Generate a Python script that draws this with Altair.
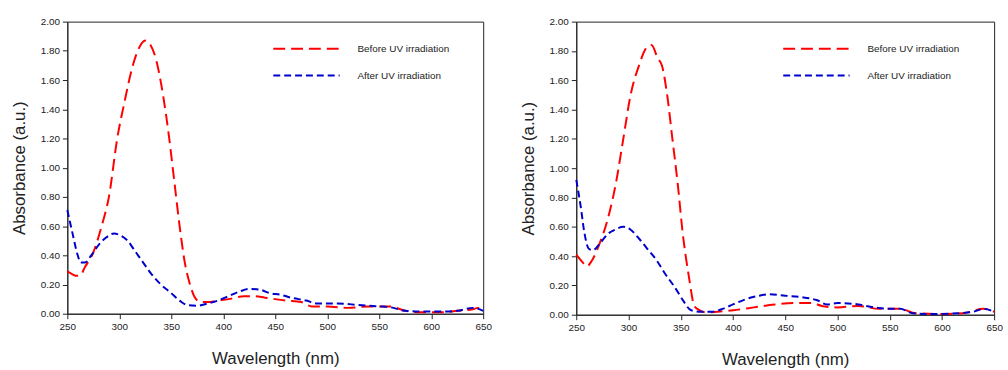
import altair as alt
import pandas as pd

# ---- data ----
left_before_x = [250, 255, 258, 262, 267, 275, 283, 290, 298, 305, 313, 319, 325, 330, 335, 342, 348, 353, 358, 363, 368, 372, 378, 385, 395, 405, 420, 430, 440, 450, 460, 475, 485, 500, 520, 540, 560, 575, 590, 610, 625, 640, 645, 650]
left_before_y = [0.29, 0.27, 0.26, 0.26, 0.32, 0.42, 0.60, 0.80, 1.20, 1.45, 1.70, 1.82, 1.87, 1.84, 1.75, 1.50, 1.20, 0.90, 0.60, 0.35, 0.20, 0.12, 0.08, 0.08, 0.09, 0.10, 0.12, 0.12, 0.11, 0.10, 0.09, 0.08, 0.05, 0.05, 0.04, 0.05, 0.05, 0.02, 0.01, 0.01, 0.02, 0.03, 0.04, 0.02]
left_after_x = [250, 255, 260, 263, 267, 273, 280, 287, 295, 300, 308, 315, 322, 330, 340, 350, 358, 365, 375, 385, 395, 405, 415, 425, 435, 445, 455, 465, 480, 490, 510, 530, 550, 560, 575, 590, 610, 625, 640, 650]
left_after_y = [0.71, 0.55, 0.40, 0.35, 0.35, 0.40, 0.47, 0.52, 0.55, 0.54, 0.50, 0.43, 0.36, 0.28, 0.20, 0.14, 0.09, 0.06, 0.055, 0.07, 0.09, 0.12, 0.15, 0.17, 0.165, 0.14, 0.13, 0.11, 0.09, 0.07, 0.07, 0.06, 0.05, 0.045, 0.02, 0.015, 0.015, 0.02, 0.04, 0.02]

right_before_x = [250, 257, 260, 265, 272, 280, 288, 295, 302, 310, 317, 322, 328, 332, 337, 342, 347, 352, 358, 363, 368, 375, 385, 400, 420, 440, 460, 475, 485, 500, 520, 540, 560, 575, 600, 620, 640, 650]
right_before_y = [0.41, 0.35, 0.33, 0.37, 0.48, 0.65, 0.90, 1.20, 1.50, 1.70, 1.82, 1.84, 1.75, 1.70, 1.50, 1.20, 0.90, 0.55, 0.25, 0.06, 0.03, 0.015, 0.02, 0.03, 0.05, 0.07, 0.08, 0.08, 0.06, 0.05, 0.06, 0.04, 0.04, 0.01, 0.005, 0.01, 0.04, 0.02]
right_after_x = [250, 254, 258, 262, 266, 272, 280, 287, 295, 302, 310, 318, 327, 335, 345, 352, 360, 370, 380, 390, 400, 410, 425, 435, 450, 465, 480, 490, 500, 520, 535, 550, 560, 572, 590, 615, 630, 640, 650]
right_after_y = [0.92, 0.75, 0.55, 0.45, 0.44, 0.48, 0.55, 0.58, 0.60, 0.58, 0.52, 0.45, 0.37, 0.28, 0.18, 0.10, 0.03, 0.02, 0.02, 0.04, 0.07, 0.10, 0.13, 0.14, 0.13, 0.12, 0.10, 0.07, 0.08, 0.07, 0.05, 0.04, 0.04, 0.01, 0.005, 0.01, 0.02, 0.04, 0.02]

series_names = ["Before UV irradiation", "After UV irradiation"]
series_colors = ["#ff0000", "#0000cc"]
series_dashes = [[12, 6], [7, 4]]
x_ticks = [250, 300, 350, 400, 450, 500, 550, 600, 650]
y_ticks = [0.0, 0.2, 0.4, 0.6, 0.8, 1.0, 1.2, 1.4, 1.6, 1.8, 2.0]


def series_layer(xs, ys, i, lx, ly, w, h):
    df = pd.DataFrame({"wl": xs, "abs": ys, "series": series_names[i]})
    return alt.Chart(df).mark_line(strokeWidth=2, interpolate="monotone").encode(
        x=alt.X("wl:Q", title="Wavelength (nm)",
                scale=alt.Scale(domain=[250, 650], nice=False),
                axis=alt.Axis(values=x_ticks, format="d", titlePadding=19, labelFlush=False)),
        y=alt.Y("abs:Q", title="Absorbance (a.u.)",
                scale=alt.Scale(domain=[0, 2], nice=False),
                axis=alt.Axis(values=y_ticks, format=".2f", titlePadding=12)),
        color=alt.Color("series:N",
                        scale=alt.Scale(domain=[series_names[i]], range=[series_colors[i]]),
                        legend=alt.Legend(title=None, orient="none", legendX=lx, legendY=ly,
                                          symbolType="stroke", symbolSize=4489,
                                          symbolStrokeWidth=2, labelFontSize=10,
                                          labelOffset=17,
                                          labelFont="Liberation Sans", labelColor="#222")),
        strokeDash=alt.StrokeDash("series:N",
                                  scale=alt.Scale(domain=[series_names[i]], range=[series_dashes[i]]),
                                  legend=None),
    ).properties(width=w, height=h)


def panel(bx, by, ax, ay, w, h, lx, ly1, ly2):
    return alt.layer(
        series_layer(bx, by, 0, lx, ly1, w, h),
        series_layer(ax, ay, 1, lx, ly2, w, h),
    ).resolve_scale(color="independent", strokeDash="independent")


left = panel(left_before_x, left_before_y, left_after_x, left_after_y, 420, 295, 207, -7, 20)
right = panel(right_before_x, right_before_y, right_after_x, right_after_y, 422, 296, 208, -7, 20)

chart = alt.hconcat(left, right, spacing=27).resolve_scale(
    color="independent", strokeDash="independent"
).configure(
    font="Liberation Sans",
    padding={"left": 10, "top": 12, "right": 5, "bottom": 0},
).configure_view(
    stroke="#222", strokeWidth=1
).configure_axis(
    grid=False, domainColor="#222", tickColor="#222", tickSize=5,
    labelFontSize=10, labelColor="#222", labelFont="Liberation Sans",
    titleFontSize=17, titleFontWeight="normal", titleColor="#222", titleFont="Liberation Sans",
    labelPadding=3,
)

chart.save("out.html", embed_options={"renderer": "svg", "actions": False})
